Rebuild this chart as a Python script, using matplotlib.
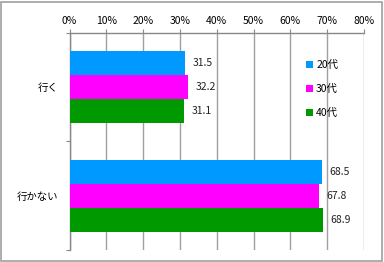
import matplotlib
matplotlib.use("Agg")
import matplotlib.pyplot as plt
import numpy as np

plt.rcParams['font.family'] = ['Noto Sans CJK JP', 'DejaVu Sans']

categories = ["行く", "行かない"]
series_names = ["20代", "30代", "40代"]
values = {
    "20代": [31.5, 68.5],
    "30代": [32.2, 67.8],
    "40代": [31.1, 68.9],
}
colors = ["#0099FF", "#FF00FF", "#009900"]
xticks = [0, 10, 20, 30, 40, 50, 60, 70, 80]

fig = plt.figure(figsize=(3.84, 2.62), dpi=100)
fig.patch.set_facecolor("white")
fig.patches.append(plt.Rectangle((0.003, 0.004), 0.992, 0.99, transform=fig.transFigure,
                                 fill=False, edgecolor="#A0A0A0", linewidth=1.2))
ax = fig.add_axes([0.181, 0.046, 0.767, 0.828])

h = 0.222
y = np.arange(len(categories))
for i, (name, c) in enumerate(zip(series_names, colors)):
    pos = y + (i - 1) * h
    bars = ax.barh(pos, values[name], height=h, color=c, label=name, zorder=3)
    for b, v in zip(bars, values[name]):
        ax.text(v + 2.0, b.get_y() + h / 2, f"{v}", va="center", ha="left", fontsize=7.5, color="#222222")

ax.set_xlim(0, 80)
ax.set_ylim(1.5, -0.5)
ax.set_xticks(xticks)
ax.set_xticklabels([f"{t}%" for t in xticks], fontsize=7.5)
ax.xaxis.tick_top()
ax.tick_params(axis='x', direction='out', length=3, color="#888888", pad=2, top=True, bottom=False)
ax.set_yticks([-0.5, 0.5, 1.5])
ax.set_yticklabels([])
ax.set_yticks(y, minor=True)
ax.set_yticklabels(categories, minor=True, fontsize=7.5)
ax.tick_params(axis='y', which='major', direction='out', length=3, color="#888888")
ax.tick_params(axis='y', which='minor', length=0, pad=8)
ax.grid(axis='x', color="#A0A0A0", linewidth=1.0, zorder=0)
for s in ["right", "bottom"]:
    ax.spines[s].set_visible(False)
for s in ["top", "left"]:
    ax.spines[s].set_color("#888888")
    ax.spines[s].set_linewidth(1.0)

leg = ax.legend(loc="upper left", bbox_to_anchor=(0.77, 0.92), frameon=False, fontsize=7.5,
                handlelength=0.7, handleheight=0.7, handletextpad=0.3, labelspacing=1.35)

fig.savefig("out.png", dpi=100)
